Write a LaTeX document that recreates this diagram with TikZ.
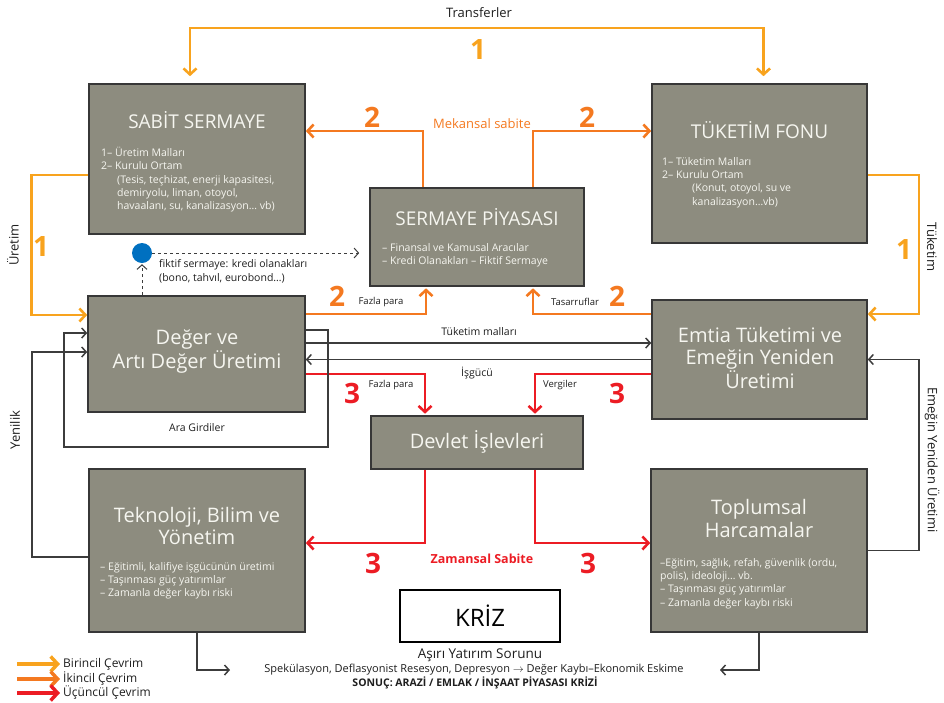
\documentclass[tikz,border=0pt]{standalone}
\usepackage{fontspec}
\setmainfont{Open Sans}
\usetikzlibrary{arrows.meta,calc}
\definecolor{boxgray}{RGB}{141,140,127}
\definecolor{boxline}{RGB}{55,55,55}
\definecolor{boxtext}{RGB}{246,246,240}
\definecolor{cycleone}{RGB}{248,163,30}
\definecolor{cycletwo}{RGB}{244,121,32}
\definecolor{cyclethree}{RGB}{236,28,36}
\definecolor{flowgray}{RGB}{60,60,60}
\definecolor{labeltext}{RGB}{30,30,30}
\definecolor{dotblue}{RGB}{0,112,192}
\tikzset{
    gray-box/.style = {draw=boxline, fill=boxgray, line width=1.6pt, rectangle, inner sep=0pt},
    gray-box-title/.style = {text=boxtext, font=\fontsize{19}{23}\selectfont, align=center, inner sep=0pt},
    gray-box-body/.style = {text=boxtext, font=\fontsize{10.5}{13.3}\selectfont, align=left, anchor=north west, inner sep=0pt},
    flow-label/.style = {text=labeltext, font=\fontsize{10.5}{12}\selectfont, inner sep=0pt},
    side-label/.style = {text=labeltext, font=\fontsize{13}{15}\selectfont, inner sep=0pt},
    cycle-num/.style = {font=\bfseries\fontsize{28}{30}\selectfont, inner sep=0pt},
    one-flow/.style = {draw=cycleone, line width=2.6pt},
    two-flow/.style = {draw=cycletwo, line width=2.6pt},
    three-flow/.style = {draw=cyclethree, line width=2.6pt},
    gray-flow/.style = {draw=flowgray, line width=1.5pt},
    bigtip/.tip = {Straight Barb[length=6pt,width=13pt]},
    smalltip/.tip = {Straight Barb[length=4.5pt,width=10pt]},
    legendtip/.tip = {Straight Barb[length=7pt,width=15pt]},
}

\begin{document}
\begin{tikzpicture}[x=1pt, y=-1pt]
\useasboundingbox (0,0) rectangle (944,702);

% kutular
\node[gray-box, minimum width=216pt, minimum height=150pt] (sabit) at (197,159) {};
\node[gray-box, minimum width=215pt, minimum height=159pt] (fon) at (759.5,163.5) {};
\node[gray-box, minimum width=214pt, minimum height=98pt] (piyasa) at (477,237) {};
\node[gray-box, minimum width=217pt, minimum height=116pt] (deger) at (196.5,354) {};
\node[gray-box, minimum width=215pt, minimum height=119pt] (emtia) at (759.5,359.5) {};
\node[gray-box, minimum width=212pt, minimum height=53pt] (devlet) at (477,442.5) {};
\node[gray-box, minimum width=216pt, minimum height=163pt] (tekno) at (197,550.5) {};
\node[gray-box, minimum width=216pt, minimum height=163pt] (toplum) at (759,550.5) {};
\node[draw=black, line width=1.8pt, fill=white, minimum width=160pt, minimum height=52pt,
      font=\fontsize{24}{26}\selectfont] (kriz) at (480,616) {KRİZ};

% basliklar ve icerik
\node[gray-box-title] (sabit-title) at (197,120) {SABİT SERMAYE};
\node[gray-box-body] (sabit-body) at (101,147) {1– Üretim Malları\\2– Kurulu Ortam\\
    \hspace*{16pt}(Tesis, teçhizat, enerji kapasitesi,\\
    \hspace*{16pt}demiryolu, liman, otoyol,\\
    \hspace*{16pt}havaalanı, su, kanalizasyon… vb)};
\node[gray-box-title] (fon-title) at (759.5,130) {TÜKETİM FONU};
\node[gray-box-body] (fon-body) at (662,157) {1– Tüketim Malları\\2– Kurulu Ortam\\
    \hspace*{30pt}(Konut, otoyol,  su ve\\
    \hspace*{30pt}kanalizasyon…vb)};
\node[gray-box-title] (piyasa-title) at (477,217) {SERMAYE PİYASASI};
\node[gray-box-body] (piyasa-body) at (382,243) {– Finansal ve Kamusal Aracılar\\– Kredi Olanakları – Fiktif Sermaye};
\node[gray-box-title, font=\fontsize{20}{24}\selectfont] (deger-title) at (197,352) {Değer ve\\Artı Değer Üretimi};
\node[gray-box-title, font=\fontsize{20}{22.5}\selectfont] (emtia-title) at (760,358) {Emtia Tüketimi ve\\Emeğin Yeniden\\Üretimi};
\node[gray-box-title, font=\fontsize{20}{24}\selectfont] (devlet-title) at (477,442) {Devlet İşlevleri};
\node[gray-box-title, font=\fontsize{20}{22}\selectfont] (tekno-title) at (197,526) {Teknoloji, Bilim ve\\Yönetim};
\node[gray-box-body] (tekno-body) at (100,562) {– Eğitimli, kalifiye işgücünün üretimi\\– Taşınması güç yatırımlar\\– Zamanla değer kaybı riski};
\node[gray-box-title, font=\fontsize{20}{23}\selectfont] (toplum-title) at (759,518.5) {Toplumsal\\Harcamalar};
\node[gray-box-body] (toplum-body) at (660,558) {–Eğitim, sağlık, refah, güvenlik (ordu,\\polis), ideoloji… vb.\\– Taşınması güç yatırımlar\\– Zamanla değer kaybı riski};

% birincil cevrim
\coordinate (transfer-top) at (477,28);
\draw[one-flow, {bigtip}-{bigtip}] ([xshift=-7pt,yshift=7pt]sabit.north) |- (transfer-top) -| ([xshift=4pt,yshift=7pt]fon.north);
\draw[one-flow, -{bigtip}] ([yshift=-16pt]sabit.west) -- ++(-57,0) |- ([yshift=39pt]deger.west);
\draw[one-flow, -{bigtip}] ([yshift=-11.5pt]fon.east) -- ++(51,0) |- ([yshift=45.5pt]emtia.east);
\node[flow-label, font=\fontsize{13}{15}\selectfont] (transfer-label) at (479,13) {Transferler};
\node[side-label, rotate=90] (uretim-label) at (13,245) {Üretim};
\node[side-label, rotate=-90] (tuketim-label) at (932,247) {Tüketim};
\node[cycle-num, text=cycleone] (num-one-top) at (478,50) {1};
\node[cycle-num, text=cycleone] (num-one-left) at (41,246) {1};
\node[cycle-num, text=cycleone] (num-one-right) at (904,249) {1};

% ikincil cevrim
\draw[two-flow, -{bigtip}] ([xshift=-54pt]piyasa.north) |- ([yshift=28pt]sabit.east);
\draw[two-flow, -{bigtip}] ([xshift=56pt]piyasa.north) |- ([yshift=32.5pt]fon.west);
\draw[two-flow, -{bigtip}, shorten >=1.5pt] ([yshift=40pt]deger.east) -| ([xshift=-51pt]piyasa.south);
\draw[two-flow, -{bigtip}, shorten >=1.5pt] ([yshift=45.5pt]emtia.west) -| ([xshift=56pt]piyasa.south);
\node[flow-label, text=cycletwo, font=\fontsize{13}{15}\selectfont] (mekansal-label) at (482,124) {Mekansal sabite};
\node[flow-label, font=\fontsize{9.5}{11}\selectfont] (fazla-two-label) at (381,302) {Fazla para};
\node[flow-label, font=\fontsize{9.5}{11}\selectfont] (tasarruf-label) at (575,302) {Tasarruflar};
\node[cycle-num, text=cycletwo] (num-two-a) at (372,117) {2};
\node[cycle-num, text=cycletwo] (num-two-b) at (587,117) {2};
\node[cycle-num, text=cycletwo] (num-two-c) at (337,296) {2};
\node[cycle-num, text=cycletwo] (num-two-d) at (617,296) {2};

% ucuncul cevrim
\draw[three-flow, -{bigtip}, shorten >=1.5pt] ([yshift=-20pt]deger.east) -| ([xshift=-52pt]devlet.north);
\draw[three-flow, -{bigtip}, shorten >=1.5pt] ([yshift=-14.5pt]emtia.west) -| ([xshift=58pt]devlet.north);
\draw[three-flow, -{bigtip}] ([xshift=-52pt]devlet.south) |- ([yshift=7.5pt]tekno.east);
\draw[three-flow, -{bigtip}] ([xshift=58pt]devlet.south) |- ([yshift=7.5pt]toplum.west);
\node[flow-label, font=\fontsize{9.5}{11}\selectfont] (fazla-three-label) at (391,385) {Fazla para};
\node[flow-label, font=\fontsize{9.5}{11}\selectfont] (vergi-label) at (560,385) {Vergiler};
\node[flow-label, text=cyclethree, font=\bfseries\fontsize{12.5}{14}\selectfont] (zamansal-label) at (482,559) {Zamansal Sabite};
\node[cycle-num, text=cyclethree] (num-three-a) at (352,393) {3};
\node[cycle-num, text=cyclethree] (num-three-b) at (617,393) {3};
\node[cycle-num, text=cyclethree] (num-three-c) at (373,563) {3};
\node[cycle-num, text=cyclethree] (num-three-d) at (588,563) {3};

% diger akislar
\path ([yshift=11pt]deger.east) coordinate (mallar-start);
\draw[gray-flow, -{smalltip}] (mallar-start) -- (mallar-start -| emtia.west);
\draw[gray-flow, -{smalltip}] (emtia.west) -- (emtia.west -| deger.east);
\node[flow-label] (mallar-label) at (479,332) {Tüketim malları};
\node[flow-label] (isgucu-label) at (477,373) {İşgücü};
\coordinate (ara-corner) at (64,447);
\draw[gray-flow, -{smalltip}] ([yshift=24pt]deger.east) -- ++(22,0) -- ++(0,117) -- (ara-corner) |- ([yshift=21pt]deger.west);
\node[flow-label] (ara-label) at (197,428) {Ara Girdiler};
\draw[gray-flow, -{smalltip}] ([yshift=-6.5pt]tekno.west) -- ++(-56,0) |- ([yshift=2pt]deger.west);
\node[side-label, rotate=90] (yenilik-label) at (15,430) {Yenilik};
\draw[gray-flow, -{smalltip}] (toplum.east) -- ++(51,0) |- (emtia.east);
\node[side-label, rotate=-90] (emek-label) at (932,460) {Emeğin Yeniden Üretimi};

% fiktif sermaye
\node[circle, fill=dotblue, minimum size=20pt, inner sep=0pt] (fiktif-dot) at (142,253) {};
\draw[flowgray, line width=1pt, dashed, -{smalltip}, shorten >=1pt] ([xshift=-54.5pt]deger.north) -- (fiktif-dot.south);
\draw[flowgray, line width=1pt, dashed, -{smalltip}, shorten >=10pt] (fiktif-dot.east) -- (fiktif-dot.east -| piyasa.west);
\node[flow-label, anchor=north west, align=left, font=\fontsize{10.5}{14}\selectfont] (fiktif-label) at (159,259) {fiktif sermaye: kredi olanakları\\(bono, tahvıl, eurobond…)};

% kriz
\coordinate (tekno-end) at (230,670);
\coordinate (toplum-end) at (720,670);
\draw[gray-flow, -{smalltip}] (tekno.south) |- (tekno-end);
\draw[gray-flow, -{smalltip}] (toplum.south) |- (toplum-end);
\node[flow-label, font=\fontsize{13.5}{15}\selectfont] (sorun-label) at (480,655) {Aşırı Yatırım Sorunu};
\node[flow-label, font=\fontsize{11}{13}\selectfont] (spek-label) at (474,670) {Spekülasyon, Deflasyonist Resesyon, Depresyon $\rightarrow$ Değer Kaybı–Ekonomik Eskime};
\node[flow-label, font=\bfseries\fontsize{10.5}{12}\selectfont] (sonuc-label) at (475,683) {SONUÇ: ARAZİ / EMLAK / İNŞAAT PİYASASI KRİZİ};

% lejant
\node[flow-label, anchor=west, font=\fontsize{12}{14}\selectfont] (leg-one) at (63,664) {Birincil Çevrim};
\node[flow-label, anchor=west, font=\fontsize{12}{14}\selectfont] (leg-two) at (63,679) {İkincil Çevrim};
\node[flow-label, anchor=west, font=\fontsize{12}{14}\selectfont] (leg-three) at (63,693) {Üçüncül Çevrim};
\coordinate (leg-one-start) at (17,664);
\coordinate (leg-two-start) at (17,679);
\coordinate (leg-three-start) at (17,693);
\draw[one-flow, line width=3.5pt, -{legendtip}] (leg-one-start) -- ([xshift=-3pt]leg-one.west);
\draw[two-flow, line width=3.5pt, -{legendtip}] (leg-two-start) -- ([xshift=-3pt]leg-two.west);
\draw[three-flow, line width=3.5pt, -{legendtip}] (leg-three-start) -- ([xshift=-3pt]leg-three.west);
\end{tikzpicture}
\end{document}
